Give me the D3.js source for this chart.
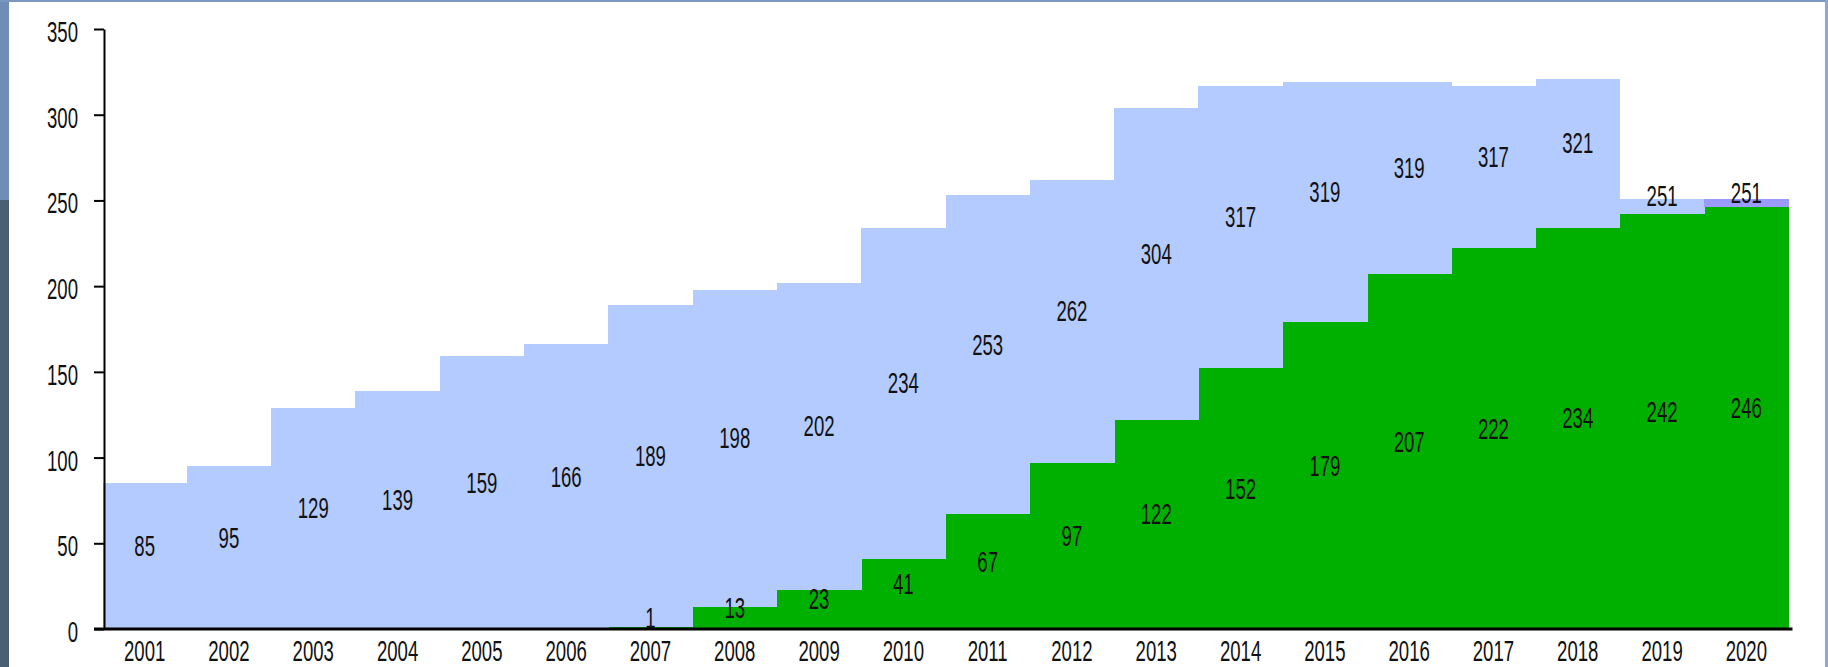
<!DOCTYPE html>
<html>
<head>
<meta charset="utf-8">
<script src="https://cdn.jsdelivr.net/npm/d3@7"></script>
<style>
  body { margin: 0; background: #fff; }
  svg { display: block; }
  text { font-family: "Liberation Sans", Arial, Helvetica, sans-serif; fill: #111; }
</style>
</head>
<body>
<svg class="chart"></svg>
<script>
// data
const years = ["2001", "2002", "2003", "2004", "2005", "2006", "2007", "2008", "2009", "2010",
    "2011", "2012", "2013", "2014", "2015", "2016", "2017", "2018", "2019", "2020"];
const totals = [85, 95, 129, 139, 159, 166, 189, 198, 202, 234, 253, 262, 304, 317, 319, 319, 317, 321, 251, 251];
const greenVals = [0, 0, 0, 0, 0, 0, 1, 13, 23, 41, 67, 97, 122, 152, 179, 207, 222, 234, 242, 246];
const extraVals = [0, 0, 0, 0, 0, 0, 0, 0, 0, 0, 0, 0, 0, 0, 0, 0, 0, 0, 0, 5];
const yTicks = [0, 50, 100, 150, 200, 250, 300, 350];

function makeChart() {
    const svgWidth = 1828,
        svgHeight = 667;
    const svg = d3.select(".chart")
        .attr("width", svgWidth)
        .attr("height", svgHeight);

    // slide frame strips
    svg.append("rect").attr("x", 0).attr("y", 0).attr("width", 9).attr("height", 200).attr("fill", "#708db5");
    svg.append("rect").attr("x", 0).attr("y", 200).attr("width", 9).attr("height", svgHeight - 200).attr("fill", "#4b5e74");
    svg.append("rect").attr("x", 0).attr("y", 0).attr("width", svgWidth).attr("height", 2).attr("fill", "#7a97c0");
    svg.append("rect").attr("x", 1825).attr("y", 0).attr("width", 3).attr("height", svgHeight).attr("fill", "#8ba9d6");

    const x = d3.scaleBand()
        .domain(years)
        .range([102.5, 1788.5])
        .padding(0);

    const y = d3.scaleLinear()
        .domain([0, 350])
        .range([629, 29]);

    const rows = years.map((yr, i) => ({
        year: yr,
        green: greenVals[i],
        blue: totals[i] - greenVals[i] - extraVals[i],
        extra: extraVals[i],
        total: totals[i]
    }));

    const stack = d3.stack().keys(["green", "blue", "extra"]);
    const series = stack(rows);
    const colors = { green: "#00b000", blue: "#b3cbff", extra: "#9a9aff" };

    const bars = svg.append("g");
    series.forEach(s => {
        bars.selectAll(null)
            .data(s)
            .enter().append("rect")
            .attr("x", d => x(d.data.year))
            .attr("width", x.bandwidth() + 0.5)
            .attr("y", d => y(d[1]))
            .attr("height", d => y(d[0]) - y(d[1]))
            .attr("fill", colors[s.key])
            .attr("shape-rendering", "crispEdges");
    });

    // narrow text: compress glyphs horizontally
    const sx = 0.62;
    const fontSize = 30;

    // value labels on green part
    svg.append("g").selectAll("g")
        .data(rows.filter(d => d.green > 0))
        .enter().append("g")
        .attr("transform", d => `translate(${x(d.year) + x.bandwidth() / 2},${y(d.green / 2)}) scale(${sx},1)`)
        .append("text")
        .attr("text-anchor", "middle")
        .style("font-size", fontSize + "px")
        .text(d => d.green);

    // total labels in the middle of the upper part
    svg.append("g").selectAll("g")
        .data(rows)
        .enter().append("g")
        .attr("transform", d => `translate(${x(d.year) + x.bandwidth() / 2},${y((d.green + d.total) / 2)}) scale(${sx},1)`)
        .append("text")
        .attr("text-anchor", "middle")
        .style("font-size", fontSize + "px")
        .text(d => d.total);

    // y axis
    const yAxis = svg.append("g")
        .attr("transform", "translate(104,0)")
        .call(d3.axisLeft(y).tickValues(yTicks).tickSize(10).tickSizeOuter(0));
    yAxis.select(".domain").attr("stroke", "#000").attr("stroke-width", 2);
    yAxis.selectAll(".tick line").attr("stroke", "#000").attr("stroke-width", 2);
    yAxis.selectAll(".tick text")
        .attr("x", null)
        .attr("dy", null)
        .attr("transform", `translate(-26,12.5) scale(${sx},1)`)
        .attr("fill", "#111")
        .style("font-size", fontSize + "px")
        .style("font-family", "'Liberation Sans', Arial, sans-serif");

    // x axis
    svg.append("line")
        .attr("x1", 94)
        .attr("x2", x.range()[1] + 4)
        .attr("y1", y(0))
        .attr("y2", y(0))
        .attr("stroke", "#000")
        .attr("stroke-width", 2.8);

    svg.append("g").selectAll("g")
        .data(years)
        .enter().append("g")
        .attr("transform", d => `translate(${x(d) + x.bandwidth() / 2},${y(0) + 31.5}) scale(${sx},1)`)
        .append("text")
        .attr("text-anchor", "middle")
        .style("font-size", fontSize + "px")
        .text(d => d);
}

makeChart();
</script>
</body>
</html>
